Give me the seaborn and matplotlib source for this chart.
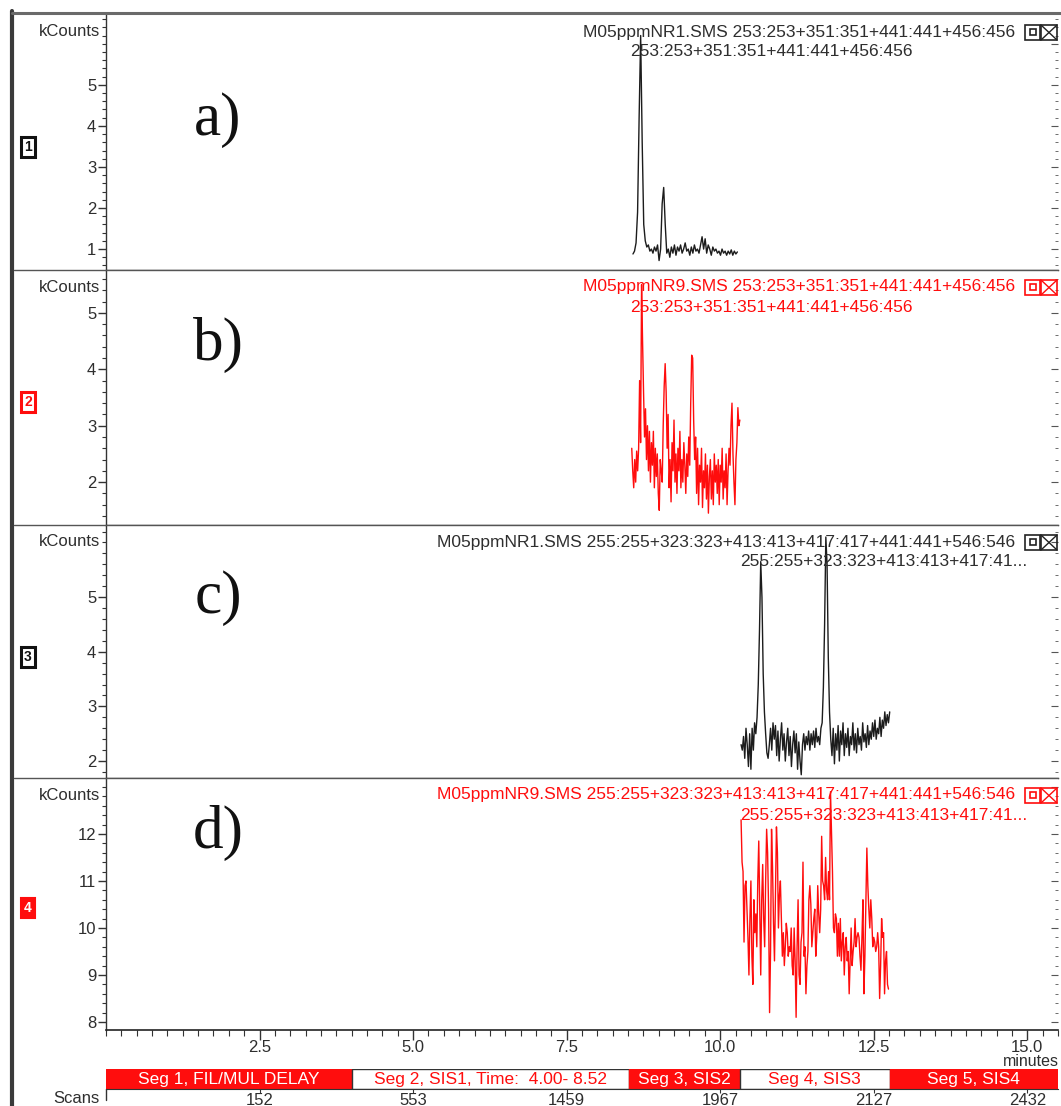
import numpy as np
import matplotlib
matplotlib.use("Agg")
import matplotlib.pyplot as plt
import seaborn as sns
from matplotlib.lines import Line2D
from matplotlib.patches import Rectangle
from matplotlib.ticker import MultipleLocator, FixedLocator, FormatStrFormatter

# ---------------- data ----------------
# trace a) M05ppmNR1, 253+351+441+456 (kCounts)
a_t0, a_t1 = 8.58, 10.28
a_vals = [0.88, 0.95, 1.15, 1.9, 4.2, 6.2, 3.6, 1.6, 1.2, 1.05,
          1.1, 0.95, 1.0, 0.9, 1.05, 0.95, 1.1, 0.72, 1.0, 2.1,
          2.5, 1.6, 0.9, 1.0, 0.8, 1.05, 0.9, 1.1, 0.85, 1.05,
          0.95, 1.1, 0.9, 1.0, 1.15, 0.95, 1.0, 0.85, 1.05, 0.9,
          1.1, 0.95, 1.0, 0.9, 1.1, 1.3, 1.0, 1.25, 0.9, 1.1,
          1.0, 0.85, 1.05, 0.95, 1.0, 0.9, 0.95, 0.85, 1.0, 0.9,
          0.95, 0.85, 0.95, 0.88, 0.98, 0.85, 0.95, 0.88, 0.93]

# trace b) M05ppmNR9, 253+351+441+456
b_t0, b_t1 = 8.56, 10.32
b_vals = [2.6, 2.2, 1.9, 2.4, 2.0, 2.55, 2.2, 2.6, 3.8, 2.7,
          5.5, 4.5, 3.6, 2.8, 3.3, 2.4, 3.0, 2.2, 2.9, 2.0,
          2.7, 2.3, 2.9, 1.9, 2.6, 2.1, 2.5, 1.8, 1.5, 2.4,
          2.2, 2.0, 3.0, 3.7, 4.1, 3.6, 2.6, 3.2, 1.9, 2.4,
          1.65, 2.7, 2.2, 3.1, 2.0, 2.5, 1.8, 2.6, 2.2, 2.9,
          1.9, 2.4, 2.0, 2.7, 2.3, 1.8, 2.5, 2.1, 2.8, 2.3,
          3.4, 4.25, 4.2, 3.1, 2.4, 2.8, 1.8, 2.6, 1.6, 2.3,
          2.0, 2.6, 1.55, 2.2, 1.9, 2.5, 1.7, 2.3, 1.45, 2.1,
          2.4, 1.7, 2.2, 1.6, 2.5, 2.0, 2.3, 1.8, 2.4, 1.6,
          2.3, 2.0, 2.6, 1.7, 2.2, 1.9, 2.5, 1.6, 2.2, 2.6,
          2.3, 3.0, 3.4, 2.5, 2.0, 1.6, 2.4, 2.7, 3.32, 3.0, 3.1]

# trace c) M05ppmNR1, 255+323+413+417+441+546
c_t0, c_t1 = 10.34, 12.76
c_vals = [2.3, 2.2, 2.45, 2.05, 2.6, 2.3, 1.9, 2.5, 1.85, 2.6,
          2.2, 2.7, 2.5, 2.8, 3.4, 4.4, 5.65, 5.0, 3.6, 2.9,
          2.5, 2.15, 2.05, 2.3, 2.6, 2.2, 2.7, 2.4, 2.65, 2.1,
          2.55, 2.0, 2.4, 2.7, 2.2, 2.5, 2.0, 2.35, 2.6, 2.1,
          2.45, 1.9, 2.3, 2.55, 2.15, 2.5, 1.85, 2.35, 2.0, 1.75,
          2.3, 2.5, 2.2, 2.45, 2.3, 2.55, 2.2, 2.5, 2.3, 2.55,
          2.25, 2.6, 2.35, 2.45, 2.3, 2.6, 2.7, 3.35, 4.5, 6.1,
          5.6, 3.9, 2.9, 2.4, 2.1, 2.6, 1.95, 2.5, 2.2, 2.65,
          2.0, 2.55, 2.3, 2.7, 2.1, 2.5, 2.25, 2.6, 2.1, 2.45,
          2.3, 2.7, 2.2, 2.5, 2.15, 2.6, 2.3, 2.45, 2.2, 2.7,
          2.35, 2.5, 2.25, 2.65, 2.3, 2.55, 2.4, 2.7, 2.45, 2.75,
          2.4, 2.6, 2.5, 2.8, 2.45, 2.75, 2.6, 2.9, 2.65, 2.85,
          2.7, 2.9]

# trace d) M05ppmNR9, 255+323+413+417+441+546
d_t0, d_t1 = 10.34, 12.74
d_vals = [12.3, 11.4, 11.2, 9.7, 10.9, 11.0, 10.4, 9.8, 9.0, 10.2,
          11.0, 9.4, 8.8, 10.6, 9.9, 10.3, 9.6, 11.0, 11.85, 10.5,
          9.0, 10.6, 11.35, 10.2, 9.6, 11.0, 12.1, 11.6, 10.4, 8.2,
          9.5, 12.1, 11.3, 10.1, 9.3, 10.8, 12.15, 11.6, 10.0, 10.7,
          11.0, 10.2, 9.4, 9.9, 9.2, 9.6, 10.1, 9.9, 9.4, 9.6,
          9.5, 10.0, 9.2, 9.0, 10.0, 9.3, 8.1, 9.6, 10.6, 9.0,
          8.8, 9.7, 9.9, 11.4, 9.4, 9.6, 8.6, 9.2, 9.5, 10.6,
          10.9, 10.5, 9.6, 9.9, 10.2, 10.4, 9.4, 9.8, 10.9, 10.3,
          9.9, 10.4, 11.95, 11.0, 10.9, 10.6, 11.5, 10.8, 10.6, 11.2,
          10.6, 12.9, 12.0, 11.2, 10.0, 9.9, 10.3, 10.2, 9.4, 10.1,
          9.4, 10.2, 9.3, 9.7, 9.9, 9.0, 9.6, 9.8, 9.3, 9.5,
          8.6, 9.3, 10.0, 9.2, 9.5, 9.7, 10.2, 9.6, 9.8, 9.9,
          9.8, 9.4, 9.1, 9.8, 10.6, 8.6, 9.4, 10.6, 11.7, 10.9,
          10.4, 10.0, 10.6, 10.2, 9.6, 9.8, 9.7, 9.5, 9.6, 9.9,
          9.6, 8.5, 9.2, 10.2, 9.8, 9.9, 8.6, 9.3, 9.5, 8.8, 8.7]

panel_letters = ["a)", "b)", "c)", "d)"]
panel_numbers = ["1", "2", "3", "4"]
header_line1 = ["M05ppmNR1.SMS 253:253+351:351+441:441+456:456",
                "M05ppmNR9.SMS 253:253+351:351+441:441+456:456",
                "M05ppmNR1.SMS 255:255+323:323+413:413+417:417+441:441+546:546",
                "M05ppmNR9.SMS 255:255+323:323+413:413+417:417+441:441+546:546"]
header_line2 = ["253:253+351:351+441:441+456:456",
                "253:253+351:351+441:441+456:456",
                "255:255+323:323+413:413+417:41...",
                "255:255+323:323+413:413+417:41..."]
y_limits = [(0.49, 6.7), (1.24, 5.76), (1.69, 6.32), (7.83, 13.19)]
y_major_ticks = [[1, 2, 3, 4, 5], [2, 3, 4, 5], [2, 3, 4, 5], [8, 9, 10, 11, 12]]

x_max = 15.5
x_major_ticks = [2.5, 5.0, 7.5, 10.0, 12.5, 15.0]
seg_labels = ["Seg 1, FIL/MUL DELAY", "Seg 2, SIS1, Time:  4.00- 8.52",
              "Seg 3, SIS2", "Seg 4, SIS3", "Seg 5, SIS4"]
seg_start = [0.0, 4.00, 8.52, 10.32, 12.76]
seg_end = [4.00, 8.52, 10.32, 12.76, 15.5]
seg_filled = [True, False, True, False, True]

scan_pos = [2.5, 5.0, 7.5, 10.0, 12.5, 15.0]
scan_labels = ["152", "553", "1459", "1967", "2127", "2432"]

# ---------------- style ----------------
sns.set_style("ticks")
plt.rcParams['font.family'] = ['Liberation Sans', 'DejaVu Sans']

RED = "#ff0d0d"
BLK = "#1c1c1c"
TXT = "#2e2e2e"
colors = [BLK, RED, BLK, RED]
FS = 12

W, H = 1061, 1106
fig = plt.figure(figsize=(W / 100, H / 100), dpi=100)
fig.patch.set_facecolor("white")


def fx(x):
    return x / W


def fy(y):
    return 1 - y / H


L, R = 106, 1058
panel_px = [(15, 270), (270, 525), (525, 778), (778, 1030)]
traces = [(a_t0, a_t1, a_vals), (b_t0, b_t1, b_vals),
          (c_t0, c_t1, c_vals), (d_t0, d_t1, d_vals)]
line2_left = [630, 630, 740, 740]
letter_y = [120, 345, 598, 833]
number_y = [147, 402, 657, 908]

for k, (top, bot) in enumerate(panel_px):
    ax = fig.add_axes([fx(L), fy(bot), (R - L) / W, (bot - top) / H])
    t0, t1, vals = traces[k]
    tt = np.linspace(t0, t1, len(vals))
    sns.lineplot(x=tt, y=np.asarray(vals), ax=ax, color=colors[k], lw=1.0,
                 estimator=None, sort=False, legend=False)
    ax.set_xlim(0, x_max)
    ax.set_ylim(*y_limits[k])
    ax.set_xlabel("")
    ax.set_ylabel("")
    for s in ["top", "right"]:
        ax.spines[s].set_visible(False)
    ax.spines["left"].set_color("#333333")
    ax.spines["left"].set_linewidth(1.0)
    ax.spines["bottom"].set_color("#444444")
    ax.spines["bottom"].set_linewidth(1.0)
    ax.yaxis.set_major_locator(FixedLocator(y_major_ticks[k]))
    ax.yaxis.set_minor_locator(MultipleLocator(0.2))
    ax.tick_params(axis="y", which="major", direction="out", length=6,
                   width=1, color="#333333", labelsize=FS, labelcolor=TXT, pad=1)
    ax.tick_params(axis="y", which="minor", direction="out", length=3,
                   width=0.8, color="#333333")
    sec = ax.secondary_yaxis("right")
    sec.yaxis.set_major_locator(MultipleLocator(1))
    sec.yaxis.set_minor_locator(MultipleLocator(0.2))
    sec.tick_params(which="major", direction="in", length=5, color="#555555",
                    labelright=False)
    sec.tick_params(which="minor", direction="in", length=2.5, color="#555555")
    sec.spines["right"].set_visible(False)
    if k < 3:
        ax.tick_params(axis="x", which="both", bottom=False, labelbottom=False)
    else:
        ax.xaxis.set_major_locator(FixedLocator(x_major_ticks))
        ax.xaxis.set_minor_locator(MultipleLocator(0.25))
        ax.xaxis.set_major_formatter(FormatStrFormatter("%.1f"))
        ax.tick_params(axis="x", which="major", direction="out", length=7,
                       width=1, color="#333333", labelsize=FS, labelcolor=TXT, pad=0)
        ax.tick_params(axis="x", which="minor", direction="out", length=4,
                       width=0.8, color="#333333")
        ax.spines["bottom"].set_color("#222222")
        ax.spines["bottom"].set_linewidth(1.2)

    tcol = TXT if k % 2 == 0 else RED
    # kCounts label
    fig.text(fx(100), fy(top + 17), "kCounts", ha="right", va="center",
             fontsize=FS, color=TXT)
    # headers
    fig.text(fx(1015), fy(top + 17), header_line1[k], ha="right", va="center",
             fontsize=12.5, color=tcol)
    fig.text(fx(line2_left[k]), fy(top + 37), header_line2[k], ha="left",
             va="center", fontsize=12.5, color=tcol)
    # panel letters
    fig.text(fx(218), fy(letter_y[k]), panel_letters[k], ha="center",
             va="center", fontsize=44, family=["Liberation Serif", "DejaVu Serif"],
             color="#111111")
    # panel number boxes
    if k == 3:
        fig.text(fx(28), fy(number_y[k]), panel_numbers[k], ha="center",
                 va="center", fontsize=10, color="white", fontweight="bold",
                 bbox=dict(boxstyle="square,pad=0.25", fc=RED, ec=RED, lw=1.5))
    else:
        ec = "#111111" if k % 2 == 0 else RED
        fig.text(fx(28), fy(number_y[k]), panel_numbers[k], ha="center",
                 va="center", fontsize=10, color=ec, fontweight="bold",
                 bbox=dict(boxstyle="square,pad=0.2", fc="white", ec=ec, lw=2.2))
    # icons (restore / close boxes)
    icol = "#222222" if k % 2 == 0 else RED
    iy = top + 10
    fig.add_artist(Rectangle((fx(1025), fy(iy + 15)), 15 / W, 15 / H,
                             transform=fig.transFigure, fill=False, ec=icol, lw=1.2))
    fig.add_artist(Rectangle((fx(1029.5), fy(iy + 10)), 6 / W, 6 / H,
                             transform=fig.transFigure, fill=False, ec=icol, lw=1.2))
    fig.add_artist(Rectangle((fx(1041), fy(iy + 15)), 16 / W, 15 / H,
                             transform=fig.transFigure, fill=False, ec=icol, lw=1.2))
    fig.add_artist(Line2D([fx(1041), fx(1057)], [fy(iy), fy(iy + 15)],
                          transform=fig.transFigure, color=icol, lw=1.0))
    fig.add_artist(Line2D([fx(1041), fx(1057)], [fy(iy + 15), fy(iy)],
                          transform=fig.transFigure, color=icol, lw=1.0))

# minutes label
fig.text(fx(1059), fy(1061), "minutes", ha="right", va="center", fontsize=11.5,
         color=TXT)

# segment bar
seg_ax = fig.add_axes([fx(L), fy(1089), (R - L) / W, 20 / H])
for i in range(len(seg_labels)):
    fill = RED if seg_filled[i] else "white"
    ec = RED if seg_filled[i] else "#333333"
    seg_ax.barh(0.5, seg_end[i] - seg_start[i], left=seg_start[i], height=1.0,
                color=fill, edgecolor=ec, linewidth=1.0)
    seg_ax.text((seg_start[i] + seg_end[i]) / 2, 0.48, seg_labels[i],
                ha="center", va="center", fontsize=12.5,
                color="white" if seg_filled[i] else RED)
seg_ax.set_xlim(0, x_max)
seg_ax.set_ylim(0, 1)
seg_ax.set_yticks([])
for s in ["top", "right", "left"]:
    seg_ax.spines[s].set_visible(False)
seg_ax.spines["bottom"].set_color("#333333")
seg_ax.xaxis.set_major_locator(FixedLocator(scan_pos))
seg_ax.set_xticklabels(scan_labels)
seg_ax.tick_params(axis="x", direction="out", length=3, color="#333333",
                   labelsize=FS, labelcolor=TXT, pad=0)
fig.text(fx(100), fy(1091), "Scans", ha="right", va="top", fontsize=FS,
         color=TXT)
fig.add_artist(Line2D([fx(L), fx(L)], [fy(1089), fy(1100)],
                      transform=fig.transFigure, color="#333333", lw=1.0))

# frame lines
fig.add_artist(Line2D([fx(12), fx(12)], [fy(11), fy(1106)],
                      transform=fig.transFigure, color="#3a3a3a", lw=3.0))
fig.add_artist(Line2D([fx(12), fx(1061)], [fy(13), fy(13)],
                      transform=fig.transFigure, color="#6a6a6a", lw=2.2))
for ysep in [270, 525, 778]:
    fig.add_artist(Line2D([fx(14), fx(R)], [fy(ysep), fy(ysep)],
                          transform=fig.transFigure, color="#555555", lw=1.0))

fig.savefig("out.png", dpi=100, facecolor="white")
